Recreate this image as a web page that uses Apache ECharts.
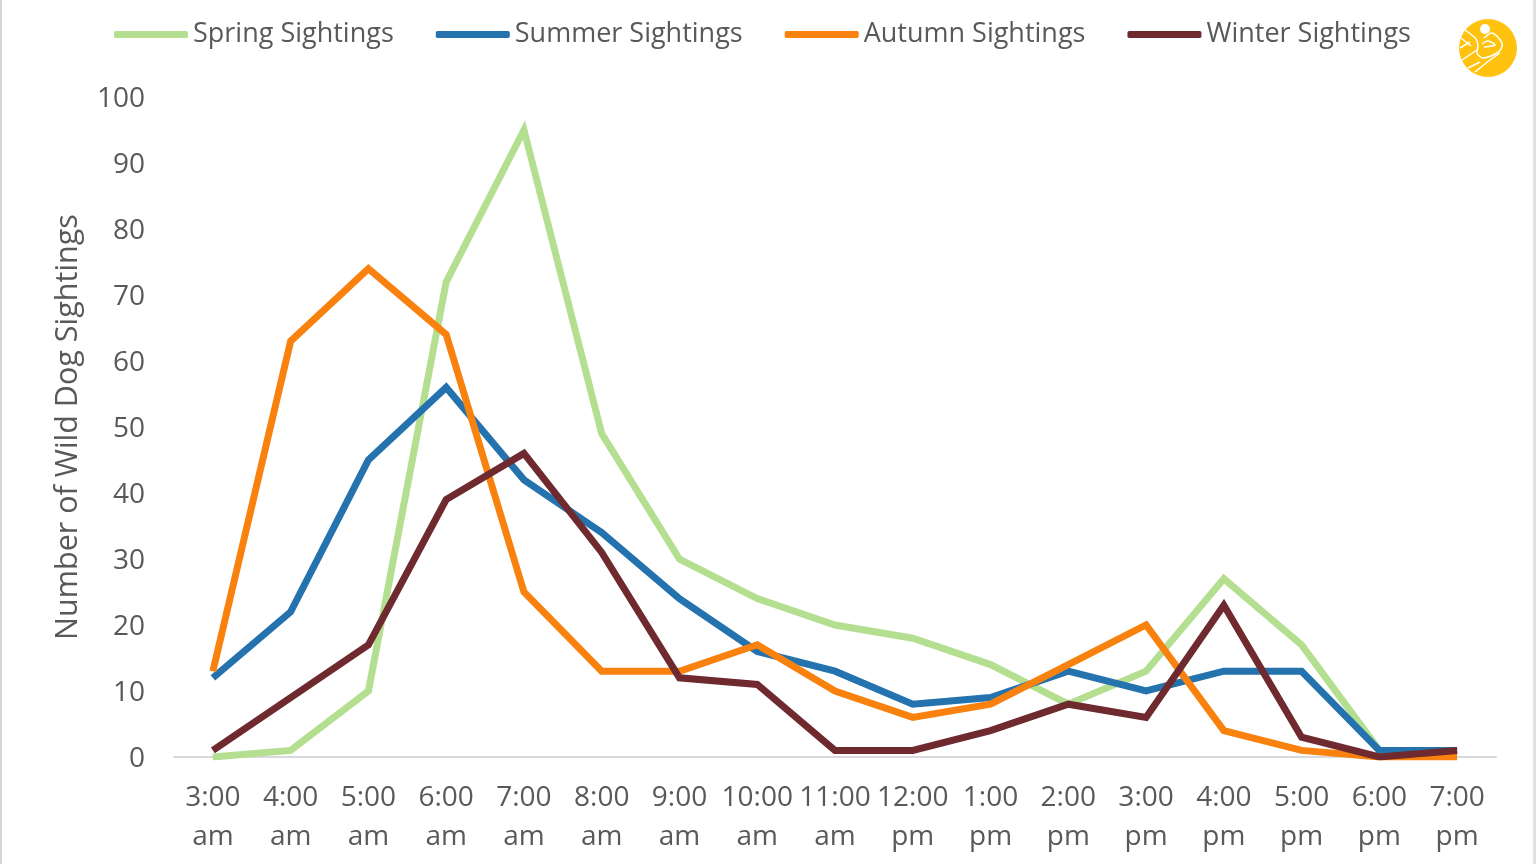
<!DOCTYPE html>
<html>
<head>
<meta charset="utf-8">
<style>
    html, body { margin: 0; padding: 0; background: #fff; }
    #main { width: 1536px; height: 864px; }
</style>
</head>
<body>
<div id="main"></div>
<script src="https://cdn.jsdelivr.net/npm/echarts@6/dist/echarts.min.js"></script>
<script>
    var hours = ['3:00\nam', '4:00\nam', '5:00\nam', '6:00\nam', '7:00\nam', '8:00\nam', '9:00\nam', '10:00\nam', '11:00\nam',
        '12:00\npm', '1:00\npm', '2:00\npm', '3:00\npm', '4:00\npm', '5:00\npm', '6:00\npm', '7:00\npm'];
    var spring = [0, 1, 10, 72, 95, 49, 30, 24, 20, 18, 14, 8, 13, 27, 17, 1, 1];
    var summer = [12, 22, 45, 56, 42, 34, 24, 16, 13, 8, 9, 13, 10, 13, 13, 1, 1];
    var autumn = [13, 63, 74, 64, 25, 13, 13, 17, 10, 6, 8, 14, 20, 4, 1, 0, 0];
    var winter = [1, 9, 17, 39, 46, 31, 12, 11, 1, 1, 4, 8, 6, 23, 3, 0, 1];

    var fontName = '"Open Sans", "Noto Sans", sans-serif';
    var textColor = '#595959';

    function makeLine(name, values, color) {
        return {
            name: name,
            type: 'line',
            data: values,
            symbol: 'none',
            smooth: false,
            lineStyle: { color: color, width: 7, join: 'miter' },
            itemStyle: { color: color }
        };
    }

    function logoStroke(points) {
        return { type: 'polyline', shape: { points: points, smooth: 0.3 }, style: { stroke: '#fff', fill: null, lineWidth: 1.5 } };
    }

    var myChart = echarts.init(document.getElementById('main'));
    var option = {
        animation: false,
        backgroundColor: '#fff',
        textStyle: { fontFamily: fontName },
        legend: {
            left: 114,
            top: 21,
            padding: 0,
            icon: 'roundRect',
            itemWidth: 74,
            itemHeight: 7,
            itemGap: 42,
            textStyle: { fontFamily: fontName, fontSize: 27, color: textColor }
        },
        grid: { left: 174, right: 40, top: 97, bottom: 107 },
        xAxis: {
            type: 'category',
            data: hours,
            boundaryGap: true,
            axisTick: { show: false },
            axisLine: { lineStyle: { color: '#d9d9d9', width: 2 } },
            axisLabel: { interval: 0, color: textColor, fontSize: 28, lineHeight: 39, margin: 22, fontFamily: fontName }
        },
        yAxis: {
            type: 'value',
            min: 0,
            max: 100,
            interval: 10,
            name: 'Number of Wild Dog Sightings',
            nameLocation: 'middle',
            nameRotate: 90,
            nameGap: 90,
            nameTextStyle: { fontSize: 30.5, color: textColor, fontFamily: fontName },
            axisLine: { show: false },
            axisTick: { show: false },
            splitLine: { show: false },
            axisLabel: {
                color: textColor,
                margin: 29,
                formatter: '{tick|{value}}',
                rich: { tick: { fontSize: 28, color: textColor, fontFamily: fontName, padding: [4, 0, 0, 0] } }
            }
        },
        series: [
            makeLine('Spring Sightings', spring, '#B5DF90'),
            makeLine('Summer Sightings', summer, '#2573AE'),
            makeLine('Autumn Sightings', autumn, '#F9820F'),
            makeLine('Winter Sightings', winter, '#6E2A2E')
        ],
        graphic: [
            // page edges
            { type: 'rect', shape: { x: 0, y: 0, width: 2, height: 864 }, style: { fill: '#d4d4d4' } },
            { type: 'rect', shape: { x: 1533, y: 0, width: 3, height: 864 }, style: { fill: '#e2e2e2' } },
            // logo
            { type: 'circle', shape: { cx: 1488, cy: 48, r: 29 }, style: { fill: '#FFC20E' } },
            { type: 'circle', shape: { cx: 1485, cy: 29, r: 5 }, style: { fill: '#fff' } },
            logoStroke([[1465, 30], [1476, 39], [1478, 46], [1477, 53], [1483, 58], [1497, 53], [1502, 47], [1501, 41], [1492, 33], [1484, 38]]),
            logoStroke([[1475, 72], [1490, 60], [1500, 53]]),
            logoStroke([[1482, 44], [1488, 41], [1495, 45], [1484, 47]]),
            logoStroke([[1460, 48], [1470, 42]]),
            logoStroke([[1462, 60], [1477, 50]]),
            logoStroke([[1468, 68], [1480, 62]]),
            logoStroke([[1461, 38], [1471, 46]])
        ]
    };
    myChart.setOption(option);
</script>
</body>
</html>
